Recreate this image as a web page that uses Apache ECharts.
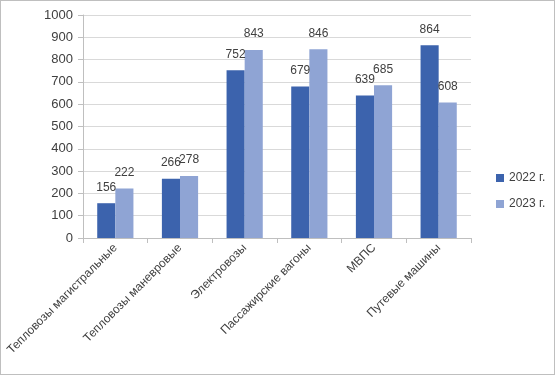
<!DOCTYPE html>
<html><head><meta charset="utf-8">
<script src="https://cdn.jsdelivr.net/npm/echarts@6/dist/echarts.min.js"></script>
<style>html,body{margin:0;padding:0;background:#fff}
#c{position:absolute;left:0;top:0;width:553px;height:373px;border:1px solid #bfbfbf}</style>
</head><body><div id="c"></div>
<script>
var categories = ["Тепловозы магистральные","Тепловозы маневровые","Электровозы","Пассажирские вагоны","МВПС","Путевые машины"];
var series2022 = [156, 266, 752, 679, 639, 864];
var series2023 = [222, 278, 843, 846, 685, 608];
var seriesNames = ["2022 г.", "2023 г."];
var yTicks = {min: 0, max: 1000, interval: 100};

var chart = echarts.init(document.getElementById('c'));
var font = 'Liberation Sans, Arial, sans-serif';
chart.setOption({
  animation: false,
  textStyle: {fontFamily: font},
  grid: {left: 82, top: 14, width: 388, height: 223, containLabel: false},
  legend: {
    orient: 'vertical', left: 490, top: 166, itemWidth: 8, itemHeight: 8, itemGap: 14,
    textStyle: {fontSize: 12, color: '#404040', fontFamily: font},
    icon: 'rect',
    data: seriesNames
  },
  xAxis: {
    type: 'category', data: categories,
    axisLine: {lineStyle: {color: '#bfbfbf'}},
    axisTick: {show: true, alignWithLabel: false, length: 5, lineStyle: {color: '#bfbfbf'}},
    axisLabel: {rotate: 45, interval: 0, fontSize: 12, color: '#404040', margin: 8, fontFamily: font}
  },
  yAxis: {
    type: 'value', min: yTicks.min, max: yTicks.max, interval: yTicks.interval,
    axisLine: {show: true, lineStyle: {color: '#bfbfbf'}},
    axisTick: {show: true, length: 5, lineStyle: {color: '#bfbfbf'}},
    axisLabel: {fontSize: 13, color: '#404040', margin: 10, fontFamily: font,
      formatter: function (v) { return String(v); }},
    splitLine: {lineStyle: {color: '#d9d9d9'}}
  },
  series: [
    {name: seriesNames[0], type: 'bar', data: series2022, barGap: '0%', barCategoryGap: '44%',
     itemStyle: {color: '#3c63ad'},
     label: {show: true, position: 'top', distance: 10, fontSize: 12, color: '#404040', fontFamily: font}},
    {name: seriesNames[1], type: 'bar', data: series2023,
     itemStyle: {color: '#8fa4d4'},
     label: {show: true, position: 'top', distance: 10, fontSize: 12, color: '#404040', fontFamily: font}}
  ]
});
</script></body></html>
